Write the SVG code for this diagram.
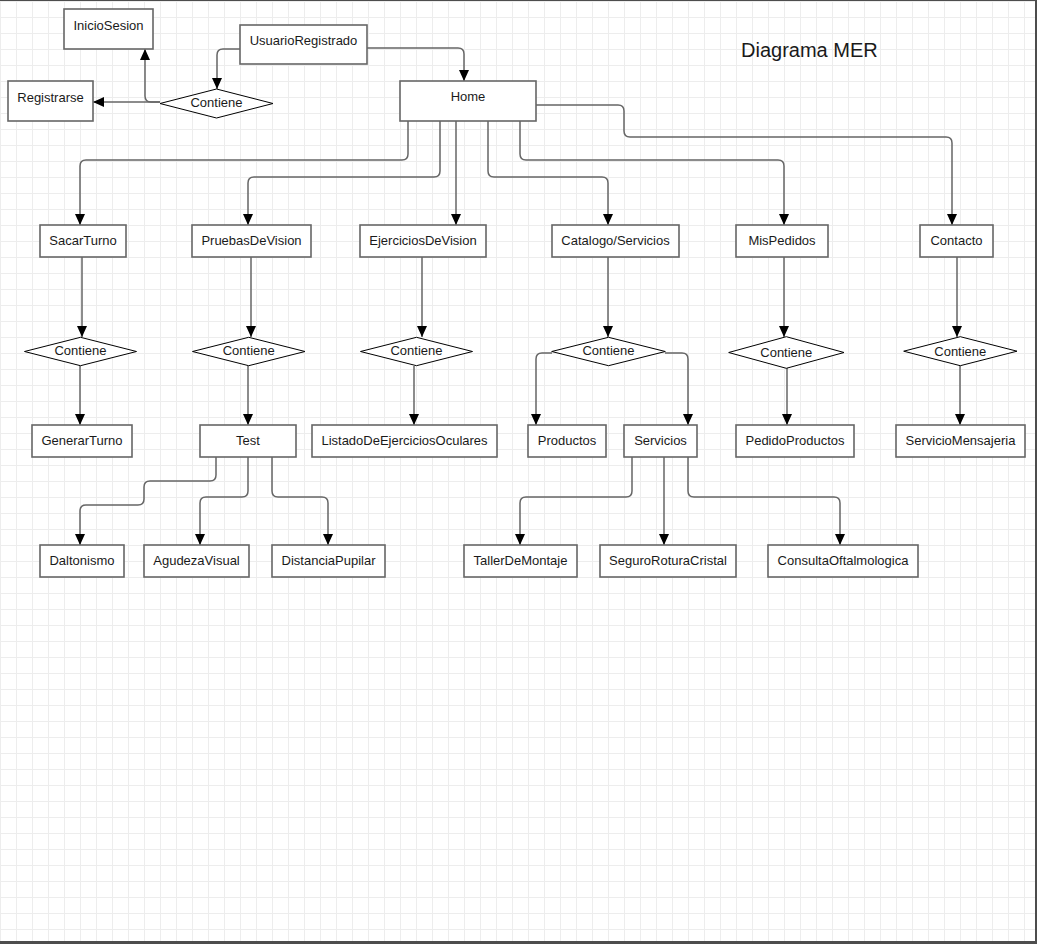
<svg xmlns="http://www.w3.org/2000/svg" width="1037" height="944" viewBox="0 0 1037 944">
  <style>
    .box { fill: #ffffff; stroke: #666666; stroke-width: 1.6; }
    .rel { fill: #ffffff; stroke: #000000; stroke-width: 1; }
    .lbl { font-family: "Liberation Sans", Arial, sans-serif; font-size: 13px; fill: #1a1a1a; text-anchor: middle; }
    .title { font-family: "Liberation Sans", Arial, sans-serif; font-size: 20px; fill: #1a1a1a; }
    .edge { fill: none; stroke: #666666; stroke-width: 1.5; marker-end: url(#arrow); }
  </style>
  <defs>
    <pattern id="grid" x="0" y="1" width="16" height="16" patternUnits="userSpaceOnUse">
      <path d="M0.5 0 V16 M0 0.5 H16" fill="none" stroke="#ededed" stroke-width="1"/>
    </pattern>
    <marker id="arrow" viewBox="0 0 11 10" refX="11" refY="5" markerWidth="11" markerHeight="10" markerUnits="userSpaceOnUse" orient="auto">
      <path d="M0 0 L11 5 L0 10 Z" fill="#000000"/>
    </marker>
  </defs>

  <!-- canvas -->
  <rect x="0" y="0" width="1037" height="944" fill="#ffffff"/>
  <rect x="0" y="0" width="1037" height="944" fill="url(#grid)"/>
  <rect x="0" y="0" width="1037" height="1" fill="#4d4d4d"/>
  <rect x="1035" y="0" width="2" height="944" fill="#4d4d4d"/>
  <rect x="0" y="941" width="1037" height="3" fill="#4d4d4d"/>

  <text class="title" x="741" y="57">Diagrama MER</text>

  <!-- connectors -->
  <g id="connectors">
    <path class="edge" d="M367 48 H458 Q464 48 464 54 V81"/>
    <path class="edge" d="M240 49 H223 Q217 49 217 55 V89"/>
    <path class="edge" d="M160 102 H93"/>
    <path class="edge" d="M160 102 H151 Q145 102 145 96 V49"/>

    <path class="edge" d="M408 121 V154 Q408 160 402 160 H86 Q80 160 80 166 V225"/>
    <path class="edge" d="M440 121 V171 Q440 177 434 177 H254 Q248 177 248 183 V225"/>
    <path class="edge" d="M456 121 V225"/>
    <path class="edge" d="M488 121 V171 Q488 177 494 177 H602 Q608 177 608 183 V225"/>
    <path class="edge" d="M520 121 V154 Q520 160 526 160 H778 Q784 160 784 166 V225"/>
    <path class="edge" d="M536 105 H618 Q624 105 624 111 V131 Q624 137 630 137 H946 Q952 137 952 143 V225"/>

    <path class="edge" d="M82 257 V337"/>
    <path class="edge" d="M80 366 V425"/>
    <path class="edge" d="M251 257 V337"/>
    <path class="edge" d="M248 366 V425"/>
    <path class="edge" d="M422 257 V337"/>
    <path class="edge" d="M414 366 V425"/>
    <path class="edge" d="M608 257 V337"/>
    <path class="edge" d="M552 353 H542 Q536 353 536 359 V425"/>
    <path class="edge" d="M665 353 H682 Q688 353 688 359 V425"/>
    <path class="edge" d="M784 257 V337"/>
    <path class="edge" d="M787 368 V425"/>
    <path class="edge" d="M957 257 V337"/>
    <path class="edge" d="M960 366 V425"/>

    <path class="edge" d="M216 457 V475 Q216 481 210 481 H150 Q144 481 144 487 V499 Q144 505 138 505 H86 Q80 505 80 511 V545"/>
    <path class="edge" d="M248 457 V491 Q248 497 242 497 H206 Q200 497 200 503 V545"/>
    <path class="edge" d="M272 457 V491 Q272 497 278 497 H322 Q328 497 328 503 V545"/>

    <path class="edge" d="M632 457 V491 Q632 497 626 497 H526 Q520 497 520 503 V545"/>
    <path class="edge" d="M664 457 V545"/>
    <path class="edge" d="M688 457 V491 Q688 497 694 497 H834 Q840 497 840 503 V545"/>
  </g>

  <!-- entities -->
  <g id="inicio-sesion"><rect class="box" x="64" y="9" width="89" height="40"/><text class="lbl" x="108.5" y="29.5">InicioSesion</text></g>
  <g id="usuario-registrado"><rect class="box" x="240" y="25" width="127" height="39"/><text class="lbl" x="303.5" y="45">UsuarioRegistrado</text></g>
  <g id="registrarse"><rect class="box" x="8" y="81" width="85" height="40"/><text class="lbl" x="50.5" y="101.5">Registrarse</text></g>
  <g id="home"><rect class="box" x="400" y="81" width="136" height="40"/><text class="lbl" x="468" y="101">Home</text></g>

  <g id="sacar-turno"><rect class="box" x="40" y="225" width="86" height="32"/><text class="lbl" x="83" y="245">SacarTurno</text></g>
  <g id="pruebas-de-vision"><rect class="box" x="192" y="225" width="119" height="32"/><text class="lbl" x="251.5" y="245">PruebasDeVision</text></g>
  <g id="ejercicios-de-vision"><rect class="box" x="360" y="225" width="126" height="32"/><text class="lbl" x="423" y="245">EjerciciosDeVision</text></g>
  <g id="catalogo-servicios"><rect class="box" x="552" y="225" width="127" height="32"/><text class="lbl" x="615.5" y="245">Catalogo/Servicios</text></g>
  <g id="mis-pedidos"><rect class="box" x="736" y="225" width="92" height="32"/><text class="lbl" x="782" y="245">MisPedidos</text></g>
  <g id="contacto"><rect class="box" x="920" y="225" width="73" height="32"/><text class="lbl" x="956.5" y="245">Contacto</text></g>

  <g id="generar-turno"><rect class="box" x="32" y="425" width="100" height="32"/><text class="lbl" x="82" y="445">GenerarTurno</text></g>
  <g id="test"><rect class="box" x="200" y="425" width="96" height="32"/><text class="lbl" x="248" y="445">Test</text></g>
  <g id="listado-ejercicios"><rect class="box" x="312" y="425" width="185" height="32"/><text class="lbl" x="404.5" y="445">ListadoDeEjerciciosOculares</text></g>
  <g id="productos"><rect class="box" x="528" y="425" width="78" height="32"/><text class="lbl" x="567" y="445">Productos</text></g>
  <g id="servicios"><rect class="box" x="624" y="425" width="73" height="32"/><text class="lbl" x="660.5" y="445">Servicios</text></g>
  <g id="pedido-productos"><rect class="box" x="736" y="425" width="118" height="32"/><text class="lbl" x="795" y="445">PedidoProductos</text></g>
  <g id="servicio-mensajeria"><rect class="box" x="896" y="425" width="129" height="32"/><text class="lbl" x="960.5" y="445">ServicioMensajeria</text></g>

  <g id="daltonismo"><rect class="box" x="40" y="545" width="84" height="32"/><text class="lbl" x="82" y="565">Daltonismo</text></g>
  <g id="agudeza-visual"><rect class="box" x="144" y="545" width="105" height="32"/><text class="lbl" x="196.5" y="565">AgudezaVisual</text></g>
  <g id="distancia-pupilar"><rect class="box" x="272" y="545" width="113" height="32"/><text class="lbl" x="328.5" y="565">DistanciaPupilar</text></g>
  <g id="taller-de-montaje"><rect class="box" x="464" y="545" width="113" height="32"/><text class="lbl" x="520.5" y="565">TallerDeMontaje</text></g>
  <g id="seguro-rotura-cristal"><rect class="box" x="600" y="545" width="136" height="32"/><text class="lbl" x="668" y="565">SeguroRoturaCristal</text></g>
  <g id="consulta-oftalmologica"><rect class="box" x="768" y="545" width="150" height="32"/><text class="lbl" x="843" y="565">ConsultaOftalmologica</text></g>

  <!-- relationships -->
  <g id="rel-usuario"><path class="rel" d="M160 103.5 L216.5 89 L273 103.5 L216.5 118 Z"/><text class="lbl" x="216.5" y="106.5">Contiene</text></g>
  <g id="rel-sacar-turno"><path class="rel" d="M24.5 351.5 L80.5 337.3 L136.5 351.5 L80.5 365.7 Z"/><text class="lbl" x="80.5" y="355">Contiene</text></g>
  <g id="rel-pruebas"><path class="rel" d="M192.5 351.5 L248.7 337.3 L305 351.5 L248.7 365.7 Z"/><text class="lbl" x="248.7" y="355">Contiene</text></g>
  <g id="rel-ejercicios"><path class="rel" d="M360.5 351.5 L416.5 337.3 L472.5 351.5 L416.5 365.7 Z"/><text class="lbl" x="416.5" y="355">Contiene</text></g>
  <g id="rel-catalogo"><path class="rel" d="M551.7 351.5 L608.5 337.3 L665.3 351.5 L608.5 365.7 Z"/><text class="lbl" x="608.5" y="354.5">Contiene</text></g>
  <g id="rel-pedidos"><path class="rel" d="M728.7 352.5 L786.3 336.7 L844 352.5 L786.3 368.3 Z"/><text class="lbl" x="786.3" y="357">Contiene</text></g>
  <g id="rel-contacto"><path class="rel" d="M903.7 351.2 L960.3 336.7 L1017 351.2 L960.3 365.7 Z"/><text class="lbl" x="960.3" y="355.5">Contiene</text></g>
</svg>
